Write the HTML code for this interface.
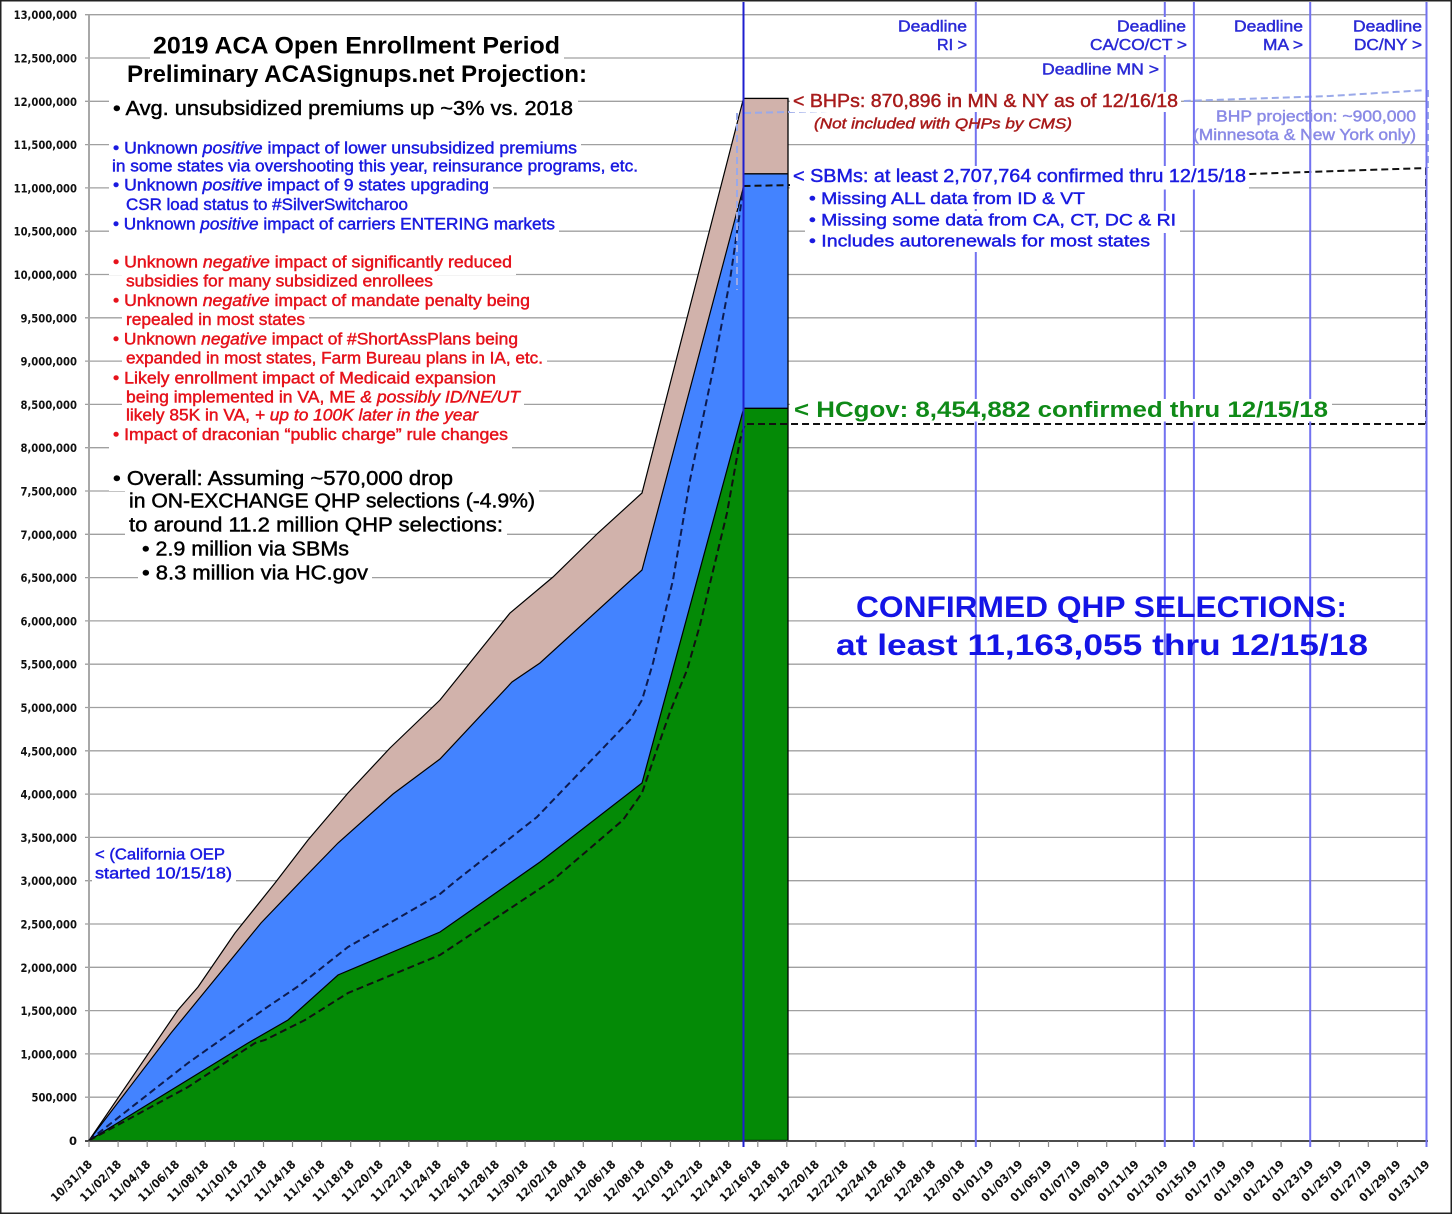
<!DOCTYPE html>
<html><head><meta charset="utf-8"><style>
html,body{margin:0;padding:0;background:#fff;}
svg{display:block;}
.t{font-family:"Liberation Sans",sans-serif;}
.ax{font-family:"DejaVu Sans","Liberation Sans",sans-serif;font-weight:bold;fill:#111;}
.m{stroke-width:0.45;}
</style></head><body>
<svg width="1452" height="1215" viewBox="0 0 1452 1215" xmlns="http://www.w3.org/2000/svg">
<rect x="0" y="0" width="1452" height="1215" fill="#fff"/>
<path d="M85 1097.2H1427M85 1053.9H1427M85 1010.6H1427M85 967.3H1427M85 924H1427M85 880.7H1427M85 837.4H1427M85 794.1H1427M85 750.8H1427M85 707.5H1427M85 664.2H1427M85 620.9H1427M85 577.6H1427M85 534.3H1427M85 491H1427M85 447.7H1427M85 404.4H1427M85 361.1H1427M85 317.8H1427M85 274.5H1427M85 231.2H1427M85 187.9H1427M85 144.6H1427M85 101.3H1427M85 58H1427M85 14.7H1427" stroke="#a0a0a0" stroke-width="1.3" fill="none"/>
<line x1="89" y1="14.7" x2="89" y2="1141" stroke="#a8a8a8" stroke-width="2"/>
<polygon points="89,1140.5 155,1100 248,1043 288,1020 338,975 440,932 540,862 642,783 743.5,409 743.5,1140.5" fill="#048a06"/>
<polygon points="89,1140.5 171,1033 198,1000 261,923 305,877 338,843 393,794 440,759 512,682 540,663 642,570 743.5,187 743.5,409 642,783 540,862 440,932 338,975 288,1020 248,1043 155,1100" fill="#4383ff"/>
<polygon points="89,1140.5 178,1010 198,987 235,933 275,883 308,840 348,793 390,748 440,700 510,613 553,577 598,533 642,493 743.5,98.4 743.5,187 642,570 540,663 512,682 440,759 393,794 338,843 305,877 261,923 198,1000 171,1033" fill="#d1b2ab"/>
<g fill="none" stroke="#000" stroke-width="1.2">
<polyline points="89,1140.5 155,1100 248,1043 288,1020 338,975 440,932 540,862 642,783 743.5,409"/>
<polyline points="89,1140.5 171,1033 198,1000 261,923 305,877 338,843 393,794 440,759 512,682 540,663 642,570 743.5,187"/>
<polyline points="89,1140.5 178,1010 198,987 235,933 275,883 308,840 348,793 390,748 440,700 510,613 553,577 598,533 642,493 743.5,98.4"/>
</g>
<rect x="743.5" y="408.3" width="44.5" height="732.2" fill="#048a06"/>
<rect x="743.5" y="173.8" width="44.5" height="234.5" fill="#4383ff"/>
<rect x="743.5" y="98.4" width="44.5" height="75.4" fill="#d1b2ab"/>
<g fill="none" stroke="#000" stroke-width="1.3">
<rect x="743.5" y="98.4" width="44.5" height="1042.1"/>
<line x1="743.5" y1="173.8" x2="788" y2="173.8"/>
<line x1="743.5" y1="408.3" x2="788" y2="408.3"/>
</g>
<g fill="none" stroke-width="2" stroke-dasharray="7 4">
<polyline stroke="#0d1b4f" points="89,1140.5 188,1063 263,1010 300,985 348,947 440,894 457,880 537,817 630,720 642,700 653,663 673,580 690,480 713,370 730,280 737,232 743.5,187"/>
<polyline stroke="#111" points="89,1140.5 188,1087 255,1043 265,1040 305,1020 348,993 440,955 553,880 623,820 642,793 655,755 670,712 687,670 700,625 712,575 727,513 740,440 745,424 1427,424"/>
<polyline stroke="#111" points="743.5,186 1000,181 1250,174 1427,168"/>
<line stroke="#111" x1="1426" y1="168" x2="1426" y2="424"/>
<polyline stroke="#9aa9e9" points="744,113 1000,107 1182,101 1330,96 1427,90"/>
<line stroke="#9aa9e9" x1="737" y1="113" x2="737" y2="290"/>
<line stroke="#9aa9e9" x1="1428" y1="90" x2="1428" y2="168"/>
</g>
<line x1="85" y1="1141" x2="1428" y2="1141" stroke="#333" stroke-width="1.8"/>
<path d="M89 1141V1147M118.1 1141V1147M147.2 1141V1147M176.2 1141V1147M205.3 1141V1147M234.4 1141V1147M263.5 1141V1147M292.5 1141V1147M321.6 1141V1147M350.7 1141V1147M379.8 1141V1147M408.8 1141V1147M437.9 1141V1147M467 1141V1147M496.1 1141V1147M525.1 1141V1147M554.2 1141V1147M583.3 1141V1147M612.4 1141V1147M641.4 1141V1147M670.5 1141V1147M699.6 1141V1147M728.7 1141V1147M757.8 1141V1147M786.8 1141V1147M815.9 1141V1147M845 1141V1147M874.1 1141V1147M903.1 1141V1147M932.2 1141V1147M961.3 1141V1147M990.4 1141V1147M1019.4 1141V1147M1048.5 1141V1147M1077.6 1141V1147M1106.7 1141V1147M1135.7 1141V1147M1164.8 1141V1147M1193.9 1141V1147M1223 1141V1147M1252 1141V1147M1281.1 1141V1147M1310.2 1141V1147M1339.3 1141V1147M1368.3 1141V1147M1397.4 1141V1147M1426.5 1141V1147" stroke="#888" stroke-width="1.2"/>
<g stroke="#7272f0" stroke-width="2">
<line x1="975.8" y1="2" x2="975.8" y2="1147"/>
<line x1="1164.8" y1="2" x2="1164.8" y2="1147"/>
<line x1="1193.9" y1="2" x2="1193.9" y2="1147"/>
<line x1="1310.2" y1="2" x2="1310.2" y2="1147"/>
<line x1="1426.5" y1="2" x2="1426.5" y2="1147"/>
</g>
<line x1="743.5" y1="2" x2="743.5" y2="1147" stroke="#1f1fcf" stroke-width="2"/>
<g fill="#fff">
<rect x="150" y="33" width="414" height="27"/>
<rect x="123" y="62" width="468" height="27"/>
<rect x="109" y="97" width="469" height="24"/>
<rect x="109" y="138" width="472" height="23"/>
<rect x="108" y="157" width="534" height="22"/>
<rect x="109" y="176" width="384" height="23"/>
<rect x="122" y="195" width="290" height="23"/>
<rect x="109" y="214" width="450" height="23"/>
<rect x="109" y="252" width="407" height="23"/>
<rect x="122" y="272" width="315" height="22"/>
<rect x="109" y="291" width="425" height="22"/>
<rect x="122" y="310" width="187" height="23"/>
<rect x="109" y="329" width="413" height="23"/>
<rect x="122" y="348" width="425" height="23"/>
<rect x="109" y="368" width="391" height="22"/>
<rect x="122" y="387" width="402" height="22"/>
<rect x="122" y="405" width="360" height="23"/>
<rect x="109" y="425" width="403" height="24"/>
<rect x="109" y="467" width="348" height="24"/>
<rect x="125" y="490" width="414" height="24"/>
<rect x="125" y="514" width="382" height="24"/>
<rect x="138" y="538" width="215" height="24"/>
<rect x="138" y="561" width="234" height="25"/>
<rect x="92" y="843" width="144" height="40"/>
<rect x="790" y="92" width="391" height="20"/>
<rect x="790" y="166" width="459" height="23.5"/>
<rect x="805" y="190" width="284" height="19"/>
<rect x="805" y="211" width="375" height="22"/>
<rect x="805" y="232" width="349" height="20"/>
<rect x="790" y="399" width="542" height="22.5"/>
<rect x="895" y="17" width="75" height="38"/>
<rect x="1087" y="17" width="103" height="38"/>
<rect x="1039" y="60" width="123" height="19"/>
<rect x="1231" y="17" width="75" height="38"/>
<rect x="1350" y="17" width="74" height="38"/>
</g>
<g class="t">
<text x="153" y="53.3" font-size="24" font-weight="bold" fill="#000" textLength="407" lengthAdjust="spacingAndGlyphs">2019 ACA Open Enrollment Period</text>
<text x="127" y="82" font-size="24" font-weight="bold" fill="#000" textLength="460" lengthAdjust="spacingAndGlyphs">Preliminary ACASignups.net Projection:</text>
<text class="m" stroke="#000" x="113" y="115" font-size="20" fill="#000" textLength="460" lengthAdjust="spacingAndGlyphs">• Avg. unsubsidized premiums up ~3% vs. 2018</text>
<g class="m" font-size="16.5" fill="#1a1ae0" stroke="#1a1ae0">
<text x="113" y="153.3" textLength="464" lengthAdjust="spacingAndGlyphs">• Unknown <tspan font-style="italic">positive</tspan> impact of lower unsubsidized premiums</text>
<text x="112" y="171.7" textLength="526" lengthAdjust="spacingAndGlyphs">in some states via overshooting this year, reinsurance programs, etc.</text>
<text x="113" y="190.7" textLength="376" lengthAdjust="spacingAndGlyphs">• Unknown <tspan font-style="italic">positive</tspan> impact of 9 states upgrading</text>
<text x="126" y="210" textLength="282" lengthAdjust="spacingAndGlyphs">CSR load status to #SilverSwitcharoo</text>
<text x="113" y="229.3" textLength="442" lengthAdjust="spacingAndGlyphs">• Unknown <tspan font-style="italic">positive</tspan> impact of carriers ENTERING markets</text>
</g>
<g class="m" font-size="16.5" fill="#e6121b" stroke="#e6121b">
<text x="113" y="267.3" textLength="399" lengthAdjust="spacingAndGlyphs">• Unknown <tspan font-style="italic">negative</tspan> impact of significantly reduced</text>
<text x="126" y="286.7" textLength="307" lengthAdjust="spacingAndGlyphs">subsidies for many subsidized enrollees</text>
<text x="113" y="306" textLength="417" lengthAdjust="spacingAndGlyphs">• Unknown <tspan font-style="italic">negative</tspan> impact of mandate penalty being</text>
<text x="126" y="325" textLength="179" lengthAdjust="spacingAndGlyphs">repealed in most states</text>
<text x="113" y="344.3" textLength="405" lengthAdjust="spacingAndGlyphs">• Unknown <tspan font-style="italic">negative</tspan> impact of #ShortAssPlans being</text>
<text x="126" y="363.3" textLength="417" lengthAdjust="spacingAndGlyphs">expanded in most states, Farm Bureau plans in IA, etc.</text>
<text x="113" y="383.3" textLength="383" lengthAdjust="spacingAndGlyphs">• Likely enrollment impact of Medicaid expansion</text>
<text x="126" y="402.3" textLength="394" lengthAdjust="spacingAndGlyphs">being implemented in VA, ME <tspan font-style="italic">&amp; possibly ID/NE/UT</tspan></text>
<text x="126" y="420.7" textLength="352" lengthAdjust="spacingAndGlyphs">likely 85K in VA, <tspan font-style="italic">+ up to 100K later in the year</tspan></text>
<text x="113" y="440" textLength="395" lengthAdjust="spacingAndGlyphs">• Impact of draconian “public charge” rule changes</text>
</g>
<g class="m" font-size="20" fill="#000" stroke="#000">
<text x="113" y="485" textLength="340" lengthAdjust="spacingAndGlyphs">• Overall: Assuming ~570,000 drop</text>
<text x="129" y="507.3" textLength="406" lengthAdjust="spacingAndGlyphs">in ON-EXCHANGE QHP selections (-4.9%)</text>
<text x="129" y="531.7" textLength="374" lengthAdjust="spacingAndGlyphs">to around 11.2 million QHP selections:</text>
<text x="142" y="555.7" textLength="207" lengthAdjust="spacingAndGlyphs">• 2.9 million via SBMs</text>
<text x="142" y="579.3" textLength="226" lengthAdjust="spacingAndGlyphs">• 8.3 million via HC.gov</text>
</g>
<g class="m" font-size="16" fill="#1a1ae0" stroke="#1a1ae0">
<text x="95" y="859.3" textLength="130" lengthAdjust="spacingAndGlyphs">&lt; (California OEP</text>
<text x="95" y="878.3" textLength="137" lengthAdjust="spacingAndGlyphs">started 10/15/18)</text>
</g>
<text class="m" stroke="#a81b1b" x="793" y="107" font-size="18" fill="#a81b1b" textLength="385" lengthAdjust="spacingAndGlyphs">&lt; BHPs: 870,896 in MN &amp; NY as of 12/16/18</text>
<text class="m" stroke="#a81b1b" x="814" y="128.5" font-size="14.5" font-style="italic" fill="#a81b1b" textLength="258" lengthAdjust="spacingAndGlyphs">(Not included with QHPs by CMS)</text>
<g class="m" fill="#1a1ae0" stroke="#1a1ae0">
<text x="793" y="182" font-size="18" textLength="453" lengthAdjust="spacingAndGlyphs">&lt; SBMs: at least 2,707,764 confirmed thru 12/15/18</text>
<text x="809" y="204" font-size="17" textLength="276" lengthAdjust="spacingAndGlyphs">• Missing ALL data from ID &amp; VT</text>
<text x="809" y="225.7" font-size="17" textLength="367" lengthAdjust="spacingAndGlyphs">• Missing some data from CA, CT, DC &amp; RI</text>
<text x="809" y="246.7" font-size="17" textLength="341" lengthAdjust="spacingAndGlyphs">• Includes autorenewals for most states</text>
</g>
<text x="794" y="417" font-size="22" font-weight="bold" fill="#0f8a17" textLength="534" lengthAdjust="spacingAndGlyphs">&lt; HCgov: 8,454,882 confirmed thru 12/15/18</text>
<g font-size="30" font-weight="bold" fill="#1414e6">
<text x="856" y="617" textLength="491" lengthAdjust="spacingAndGlyphs">CONFIRMED QHP SELECTIONS:</text>
<text x="836" y="655" textLength="532" lengthAdjust="spacingAndGlyphs">at least 11,163,055 thru 12/15/18</text>
</g>
<g class="m" font-size="16" fill="#8a8ae6" stroke="#8a8ae6">
<text x="1216" y="121.7" textLength="200" lengthAdjust="spacingAndGlyphs">BHP projection: ~900,000</text>
<text x="1193" y="140" textLength="223" lengthAdjust="spacingAndGlyphs">(Minnesota &amp; New York only)</text>
</g>
<g class="m" font-size="15.5" fill="#2a2ad6" stroke="#2a2ad6">
<text x="898" y="31.5" textLength="69" lengthAdjust="spacingAndGlyphs">Deadline</text>
<text x="937" y="50" textLength="30" lengthAdjust="spacingAndGlyphs">RI &gt;</text>
<text x="1117" y="31.5" textLength="69" lengthAdjust="spacingAndGlyphs">Deadline</text>
<text x="1090" y="50" textLength="97" lengthAdjust="spacingAndGlyphs">CA/CO/CT &gt;</text>
<text x="1042" y="74.5" textLength="117" lengthAdjust="spacingAndGlyphs">Deadline MN &gt;</text>
<text x="1234" y="31.5" textLength="69" lengthAdjust="spacingAndGlyphs">Deadline</text>
<text x="1263" y="50" textLength="40" lengthAdjust="spacingAndGlyphs">MA &gt;</text>
<text x="1353" y="31.5" textLength="69" lengthAdjust="spacingAndGlyphs">Deadline</text>
<text x="1354" y="50" textLength="68" lengthAdjust="spacingAndGlyphs">DC/NY &gt;</text>
</g>
</g>
<g class="ax" font-size="11.5" text-anchor="end">
<text x="77" y="1145">0</text>
<text x="77" y="1101.7" textLength="45.5" lengthAdjust="spacingAndGlyphs">500,000</text>
<text x="77" y="1058.4" textLength="56.5" lengthAdjust="spacingAndGlyphs">1,000,000</text>
<text x="77" y="1015.1" textLength="56.5" lengthAdjust="spacingAndGlyphs">1,500,000</text>
<text x="77" y="971.8" textLength="56.5" lengthAdjust="spacingAndGlyphs">2,000,000</text>
<text x="77" y="928.5" textLength="56.5" lengthAdjust="spacingAndGlyphs">2,500,000</text>
<text x="77" y="885.2" textLength="56.5" lengthAdjust="spacingAndGlyphs">3,000,000</text>
<text x="77" y="841.9" textLength="56.5" lengthAdjust="spacingAndGlyphs">3,500,000</text>
<text x="77" y="798.6" textLength="56.5" lengthAdjust="spacingAndGlyphs">4,000,000</text>
<text x="77" y="755.3" textLength="56.5" lengthAdjust="spacingAndGlyphs">4,500,000</text>
<text x="77" y="712" textLength="56.5" lengthAdjust="spacingAndGlyphs">5,000,000</text>
<text x="77" y="668.7" textLength="56.5" lengthAdjust="spacingAndGlyphs">5,500,000</text>
<text x="77" y="625.4" textLength="56.5" lengthAdjust="spacingAndGlyphs">6,000,000</text>
<text x="77" y="582.1" textLength="56.5" lengthAdjust="spacingAndGlyphs">6,500,000</text>
<text x="77" y="538.8" textLength="56.5" lengthAdjust="spacingAndGlyphs">7,000,000</text>
<text x="77" y="495.5" textLength="56.5" lengthAdjust="spacingAndGlyphs">7,500,000</text>
<text x="77" y="452.2" textLength="56.5" lengthAdjust="spacingAndGlyphs">8,000,000</text>
<text x="77" y="408.9" textLength="56.5" lengthAdjust="spacingAndGlyphs">8,500,000</text>
<text x="77" y="365.6" textLength="56.5" lengthAdjust="spacingAndGlyphs">9,000,000</text>
<text x="77" y="322.3" textLength="56.5" lengthAdjust="spacingAndGlyphs">9,500,000</text>
<text x="77" y="279" textLength="63.4" lengthAdjust="spacingAndGlyphs">10,000,000</text>
<text x="77" y="235.7" textLength="63.4" lengthAdjust="spacingAndGlyphs">10,500,000</text>
<text x="77" y="192.4" textLength="63.4" lengthAdjust="spacingAndGlyphs">11,000,000</text>
<text x="77" y="149.1" textLength="63.4" lengthAdjust="spacingAndGlyphs">11,500,000</text>
<text x="77" y="105.8" textLength="63.4" lengthAdjust="spacingAndGlyphs">12,000,000</text>
<text x="77" y="62.5" textLength="63.4" lengthAdjust="spacingAndGlyphs">12,500,000</text>
<text x="77" y="19.2" textLength="63.4" lengthAdjust="spacingAndGlyphs">13,000,000</text>
</g>
<g class="ax" font-size="11.5" text-anchor="end">
<text transform="translate(93,1165) rotate(-45)" textLength="53" lengthAdjust="spacingAndGlyphs">10/31/18</text>
<text transform="translate(122.1,1165) rotate(-45)" textLength="53" lengthAdjust="spacingAndGlyphs">11/02/18</text>
<text transform="translate(151.2,1165) rotate(-45)" textLength="53" lengthAdjust="spacingAndGlyphs">11/04/18</text>
<text transform="translate(180.2,1165) rotate(-45)" textLength="53" lengthAdjust="spacingAndGlyphs">11/06/18</text>
<text transform="translate(209.3,1165) rotate(-45)" textLength="53" lengthAdjust="spacingAndGlyphs">11/08/18</text>
<text transform="translate(238.4,1165) rotate(-45)" textLength="53" lengthAdjust="spacingAndGlyphs">11/10/18</text>
<text transform="translate(267.5,1165) rotate(-45)" textLength="53" lengthAdjust="spacingAndGlyphs">11/12/18</text>
<text transform="translate(296.5,1165) rotate(-45)" textLength="53" lengthAdjust="spacingAndGlyphs">11/14/18</text>
<text transform="translate(325.6,1165) rotate(-45)" textLength="53" lengthAdjust="spacingAndGlyphs">11/16/18</text>
<text transform="translate(354.7,1165) rotate(-45)" textLength="53" lengthAdjust="spacingAndGlyphs">11/18/18</text>
<text transform="translate(383.8,1165) rotate(-45)" textLength="53" lengthAdjust="spacingAndGlyphs">11/20/18</text>
<text transform="translate(412.8,1165) rotate(-45)" textLength="53" lengthAdjust="spacingAndGlyphs">11/22/18</text>
<text transform="translate(441.9,1165) rotate(-45)" textLength="53" lengthAdjust="spacingAndGlyphs">11/24/18</text>
<text transform="translate(471,1165) rotate(-45)" textLength="53" lengthAdjust="spacingAndGlyphs">11/26/18</text>
<text transform="translate(500.1,1165) rotate(-45)" textLength="53" lengthAdjust="spacingAndGlyphs">11/28/18</text>
<text transform="translate(529.1,1165) rotate(-45)" textLength="53" lengthAdjust="spacingAndGlyphs">11/30/18</text>
<text transform="translate(558.2,1165) rotate(-45)" textLength="53" lengthAdjust="spacingAndGlyphs">12/02/18</text>
<text transform="translate(587.3,1165) rotate(-45)" textLength="53" lengthAdjust="spacingAndGlyphs">12/04/18</text>
<text transform="translate(616.4,1165) rotate(-45)" textLength="53" lengthAdjust="spacingAndGlyphs">12/06/18</text>
<text transform="translate(645.4,1165) rotate(-45)" textLength="53" lengthAdjust="spacingAndGlyphs">12/08/18</text>
<text transform="translate(674.5,1165) rotate(-45)" textLength="53" lengthAdjust="spacingAndGlyphs">12/10/18</text>
<text transform="translate(703.6,1165) rotate(-45)" textLength="53" lengthAdjust="spacingAndGlyphs">12/12/18</text>
<text transform="translate(732.7,1165) rotate(-45)" textLength="53" lengthAdjust="spacingAndGlyphs">12/14/18</text>
<text transform="translate(761.8,1165) rotate(-45)" textLength="53" lengthAdjust="spacingAndGlyphs">12/16/18</text>
<text transform="translate(790.8,1165) rotate(-45)" textLength="53" lengthAdjust="spacingAndGlyphs">12/18/18</text>
<text transform="translate(819.9,1165) rotate(-45)" textLength="53" lengthAdjust="spacingAndGlyphs">12/20/18</text>
<text transform="translate(849,1165) rotate(-45)" textLength="53" lengthAdjust="spacingAndGlyphs">12/22/18</text>
<text transform="translate(878.1,1165) rotate(-45)" textLength="53" lengthAdjust="spacingAndGlyphs">12/24/18</text>
<text transform="translate(907.1,1165) rotate(-45)" textLength="53" lengthAdjust="spacingAndGlyphs">12/26/18</text>
<text transform="translate(936.2,1165) rotate(-45)" textLength="53" lengthAdjust="spacingAndGlyphs">12/28/18</text>
<text transform="translate(965.3,1165) rotate(-45)" textLength="53" lengthAdjust="spacingAndGlyphs">12/30/18</text>
<text transform="translate(994.4,1165) rotate(-45)" textLength="53" lengthAdjust="spacingAndGlyphs">01/01/19</text>
<text transform="translate(1023.4,1165) rotate(-45)" textLength="53" lengthAdjust="spacingAndGlyphs">01/03/19</text>
<text transform="translate(1052.5,1165) rotate(-45)" textLength="53" lengthAdjust="spacingAndGlyphs">01/05/19</text>
<text transform="translate(1081.6,1165) rotate(-45)" textLength="53" lengthAdjust="spacingAndGlyphs">01/07/19</text>
<text transform="translate(1110.7,1165) rotate(-45)" textLength="53" lengthAdjust="spacingAndGlyphs">01/09/19</text>
<text transform="translate(1139.7,1165) rotate(-45)" textLength="53" lengthAdjust="spacingAndGlyphs">01/11/19</text>
<text transform="translate(1168.8,1165) rotate(-45)" textLength="53" lengthAdjust="spacingAndGlyphs">01/13/19</text>
<text transform="translate(1197.9,1165) rotate(-45)" textLength="53" lengthAdjust="spacingAndGlyphs">01/15/19</text>
<text transform="translate(1227,1165) rotate(-45)" textLength="53" lengthAdjust="spacingAndGlyphs">01/17/19</text>
<text transform="translate(1256,1165) rotate(-45)" textLength="53" lengthAdjust="spacingAndGlyphs">01/19/19</text>
<text transform="translate(1285.1,1165) rotate(-45)" textLength="53" lengthAdjust="spacingAndGlyphs">01/21/19</text>
<text transform="translate(1314.2,1165) rotate(-45)" textLength="53" lengthAdjust="spacingAndGlyphs">01/23/19</text>
<text transform="translate(1343.3,1165) rotate(-45)" textLength="53" lengthAdjust="spacingAndGlyphs">01/25/19</text>
<text transform="translate(1372.3,1165) rotate(-45)" textLength="53" lengthAdjust="spacingAndGlyphs">01/27/19</text>
<text transform="translate(1401.4,1165) rotate(-45)" textLength="53" lengthAdjust="spacingAndGlyphs">01/29/19</text>
<text transform="translate(1430.5,1165) rotate(-45)" textLength="53" lengthAdjust="spacingAndGlyphs">01/31/19</text>
</g>
<rect x="0.75" y="0.75" width="1450.5" height="1212.5" fill="none" stroke="#222" stroke-width="1.5"/>
</svg>
</body></html>
